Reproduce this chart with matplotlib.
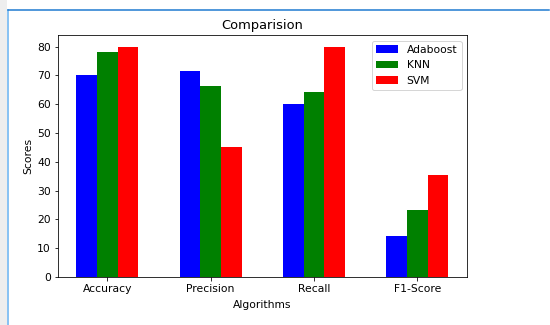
import numpy as np
import matplotlib
matplotlib.use("Agg")
from matplotlib import pyplot as plt
from matplotlib.lines import Line2D
from matplotlib.patches import Rectangle

plt.rcParams['font.size'] = 10.8

metrics = ["Accuracy", "Precision", "Recall", "F1-Score"]
adaboost = [70.0, 71.4, 60.1, 14.3]
knn = [78.3, 66.4, 64.1, 23.1]
svm = [80.0, 45.3, 80.0, 35.4]

fig = plt.figure(figsize=(550 / 72, 325 / 72), dpi=72)
ax = fig.add_axes([0.105, 0.148, 0.744, 0.744])

x = np.arange(len(metrics))
width = 0.2
ax.bar(x - width, adaboost, width, color="blue", label="Adaboost")
ax.bar(x, knn, width, color="green", label="KNN")
ax.bar(x + width, svm, width, color="red", label="SVM")

ax.set_xticks(x)
ax.set_xticklabels(metrics)
ax.set_xlabel("Algorithms", labelpad=6)
ax.set_ylabel("Scores")
ax.set_title("Comparision")
ax.legend(loc="upper right")

# notebook output frame
fig.add_artist(Rectangle((0, 0), 7 / 550, 1, transform=fig.transFigure,
                         color="#eeeeee", lw=0))
fig.add_artist(Line2D([8 / 550, 8 / 550], [0, 1 - 9.5 / 325],
                      transform=fig.transFigure, color="#64b0f0", lw=1.5))
fig.add_artist(Line2D([8 / 550, 549 / 550], [1 - 9.5 / 325, 1 - 9.5 / 325],
                      transform=fig.transFigure, color="#1a78d0", lw=1.5))

plt.savefig("out.png", dpi=72)
